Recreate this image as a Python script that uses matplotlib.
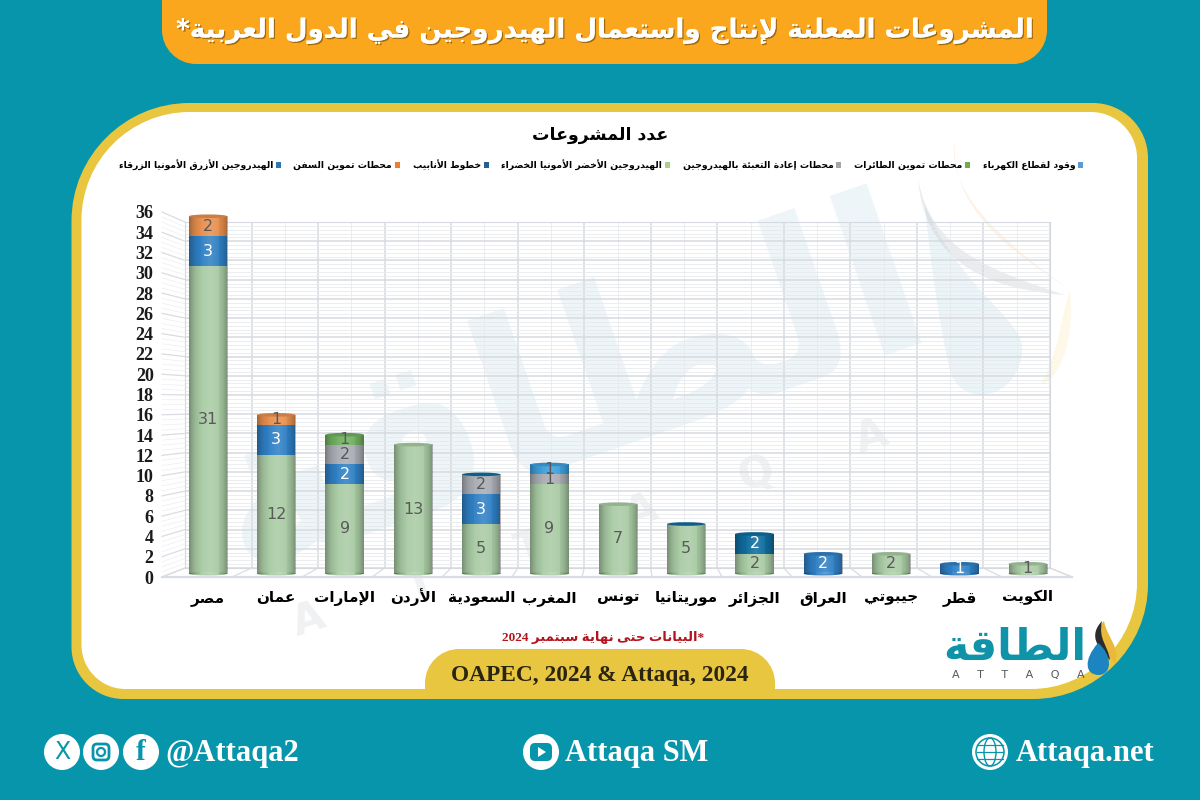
"""
Announced hydrogen projects in Arab countries, stacked cylinders on a poster layout
"""
import re
import numpy as np
import matplotlib
matplotlib.use("Agg")
import matplotlib.pyplot as plt
import matplotlib.patheffects as pe
from matplotlib.patches import Circle, Ellipse, FancyBboxPatch, PathPatch, Polygon, Rectangle
from matplotlib.path import Path
from matplotlib.ticker import MultipleLocator

countries = ["مصر", "عمان", "الإمارات", "الأردن", "السعودية", "المغرب", "تونس",
             "موريتانيا", "الجزائر", "العراق", "جيبوتي", "قطر", "الكويت"]

# stacking order is bottom to top
green_h2 = [31, 12, 9, 13, 5, 9, 7, 5, 2, 0, 2, 0, 1]
blue_h2 = [3, 3, 2, 0, 3, 0, 0, 0, 0, 2, 0, 1, 0]
pipelines = [0, 0, 0, 0, 0, 0, 0, 0, 2, 0, 0, 0, 0]
refuel = [0, 0, 2, 0, 2, 1, 0, 0, 0, 0, 0, 0, 0]
aviation = [0, 0, 1, 0, 0, 0, 0, 0, 0, 0, 0, 0, 0]
ships = [2, 1, 0, 0, 0, 0, 0, 0, 0, 0, 0, 0, 0]
power = [0, 0, 0, 0, 0, 1, 0, 0, 0, 0, 0, 0, 0]

name_green = "الهيدروجين الأخضر الأمونيا الخضراء"
name_blue = "الهيدروجين الأزرق الأمونيا الزرقاء"
name_pipe = "خطوط الأنابيب"
name_refuel = "محطات إعادة التعبئة بالهيدروجين"
name_air = "محطات تموين الطائرات"
name_ship = "محطات تموين السفن"
name_power = "وقود لقطاع الكهرباء"

title_text = "المشروعات المعلنة لإنتاج واستعمال الهيدروجين في الدول العربية*"
chart_title = "عدد المشروعات"
note_text = "*البيانات حتى نهاية سبتمبر 2024"
source_text = "OAPEC, 2024 & Attaqa, 2024"
logo_text = "الطاقة"

TEAL = "#0795AB"
ORANGE = "#FBA71E"
YELLOW = "#E9C63F"
SERIF = ["Liberation Serif", "DejaVu Sans"]

# matplotlib has no arabic shaping, so map to presentation forms and flip
LETTERS = "ءآأؤإئابةتثجحخدذرزسشصضطظعغفقكلمنهوىي"
COUNTS = [1, 2, 2, 2, 2, 4, 2, 4, 2, 4, 4, 4, 4, 4, 2, 2, 2, 2, 4, 4, 4, 4, 4, 4, 4, 4, 4, 4, 4, 4, 4, 4, 4, 2, 2, 4]
BASE = {}
code = 0xFE80
for ch, cnt in zip(LETTERS, COUNTS):
    BASE[ch] = (code, cnt)
    code += cnt
LAM_ALEF = {"آ": 0xFEF5, "أ": 0xFEF7, "إ": 0xFEF9, "ا": 0xFEFB}


def ar(s):
    out = []
    i = 0
    while i < len(s):
        ch = s[i]
        if ch not in BASE:
            out.append(ch)
            i += 1
            continue
        prev_joins = i > 0 and s[i - 1] in BASE and BASE[s[i - 1]][1] == 4
        if ch == "ل" and i + 1 < len(s) and s[i + 1] in LAM_ALEF:
            out.append(chr(LAM_ALEF[s[i + 1]] + (1 if prev_joins else 0)))
            i += 2
            continue
        next_joins = i + 1 < len(s) and s[i + 1] in BASE and s[i + 1] != "ء"
        base, cnt = BASE[ch]
        if cnt == 1:
            form = 0
        elif cnt == 2:
            form = 1 if prev_joins else 0
        elif prev_joins:
            form = 3 if next_joins else 1
        else:
            form = 2 if next_joins else 0
        out.append(chr(base + form))
        i += 1
    return re.sub(r"\d+", lambda m: m.group()[::-1], "".join(out)[::-1])


def round_box(x0, y0, x1, y1, tl, tr, br, bl):
    # y goes down, one radius per corner
    k = 0.45
    verts = [(x0 + tl, y0), (x1 - tr, y0),
             (x1 - tr * k, y0), (x1, y0 + tr * k), (x1, y0 + tr), (x1, y1 - br),
             (x1, y1 - br * k), (x1 - br * k, y1), (x1 - br, y1), (x0 + bl, y1),
             (x0 + bl * k, y1), (x0, y1 - bl * k), (x0, y1 - bl), (x0, y0 + tl),
             (x0, y0 + tl * k), (x0 + tl * k, y0), (x0 + tl, y0), (x0 + tl, y0)]
    codes = [Path.MOVETO, Path.LINETO,
             Path.CURVE4, Path.CURVE4, Path.CURVE4, Path.LINETO,
             Path.CURVE4, Path.CURVE4, Path.CURVE4, Path.LINETO,
             Path.CURVE4, Path.CURVE4, Path.CURVE4, Path.LINETO,
             Path.CURVE4, Path.CURVE4, Path.CURVE4, Path.CLOSEPOLY]
    return Path(verts, codes)


def blob(a, pts, color, alpha=1.0):
    # pts: start point then groups of three bezier points
    codes = [Path.MOVETO] + [Path.CURVE4] * (len(pts) - 1)
    a.add_patch(PathPatch(Path(pts, codes), fc=color, ec="none", alpha=alpha))


fig = plt.figure(figsize=(12, 8), dpi=100)
fig.patch.set_facecolor(TEAL)


def px_axes(x0, y0, x1, y1):
    # axes from pixel box, y measured from the top
    return fig.add_axes([x0 / 1200, 1 - y1 / 800, (x1 - x0) / 1200, (y1 - y0) / 800])


# poster background in pixel coordinates
bg = fig.add_axes([0, 0, 1, 1], zorder=0)
bg.set_xlim(0, 1200)
bg.set_ylim(800, 0)
bg.axis("off")

bg.add_patch(PathPatch(round_box(71.5, 103, 1148, 699, 118, 55, 115, 52), fc=YELLOW, ec="none"))
bg.add_patch(PathPatch(round_box(81.5, 112, 1137, 689, 108, 46, 106, 44), fc="#FFFFFF", ec="none"))
bg.add_patch(PathPatch(round_box(162, -40, 1047, 64, 10, 10, 34, 34), fc=ORANGE, ec="none"))
bg.add_patch(PathPatch(round_box(425, 649, 775, 695, 34, 34, 0, 0), fc=YELLOW, ec="none"))

# faint watermark behind the chart
bg.text(570, 395, ar(logo_text), fontsize=160, fontweight="bold", color="#EDF5F8", rotation=19,
        ha="center", va="center", family="DejaVu Sans")
bg.text(590, 528, "A      T      T      A      Q      A", fontsize=30, fontweight="bold", color="#F0F1F2",
        rotation=18, ha="center", va="center", family="DejaVu Sans")
blob(bg, [(918, 178), (930, 250), (990, 270), (1065, 295), (1000, 290), (925, 270), (918, 178)], "#8E989F", 0.18)
blob(bg, [(955, 140), (945, 190), (1000, 240), (1070, 290), (1010, 250), (950, 210), (955, 140)], "#F0A040", 0.13)
blob(bg, [(1070, 290), (1075, 340), (1060, 380), (1040, 385), (1060, 350), (1060, 320), (1070, 290)], "#F5D060", 0.14)
blob(bg, [(925, 205), (960, 290), (1025, 320), (1022, 350), (1020, 400), (960, 410), (950, 370),
          (940, 330), (930, 260), (925, 205)], "#7FB8CF", 0.15)

# title band and other poster text
bg.text(606, 31, ar(title_text), fontsize=18.8, fontweight="bold", color="#FFFFFF", ha="center", va="center",
        family="DejaVu Sans",
        path_effects=[pe.withSimplePatchShadow(offset=(1, -1), shadow_rgbFace="#7A5208", alpha=0.7), pe.Normal()])
bg.text(600, 135, ar(chart_title), fontsize=12.5, fontweight="bold", color="#000000", ha="center", va="center",
        family="DejaVu Sans")
bg.text(603, 638, ar(note_text), fontsize=9.5, fontweight="bold", color="#B3131D", ha="center", va="center",
        family=SERIF)
bg.text(600, 676, source_text, fontsize=16.8, fontweight="bold", color="#2A2412", ha="center", va="center",
        family="Liberation Serif")

# logo, bottom right
bg.text(1015, 648, ar(logo_text), fontsize=31, fontweight="bold", color="#0E93A8", ha="center", va="center",
        family="DejaVu Sans")
bg.text(1018, 675, "A     T     T     A     Q     A", fontsize=8, color="#55595C", ha="center", va="center",
        family="DejaVu Sans")
blob(bg, [(1104, 621), (1090, 636), (1104, 648), (1115, 664), (1120, 645), (1108, 640), (1104, 621)], "#E9B93C")
blob(bg, [(1102, 621), (1088, 636), (1098, 648), (1110, 660), (1108, 645), (1098, 640), (1102, 621)], "#2B2B2B")
blob(bg, [(1098, 643), (1083, 660), (1085, 675), (1099, 675), (1113, 674), (1112, 654), (1098, 643)], "#1C84C0")

# footer
for x, r in [(62, 18), (101, 18), (141, 18), (541, 18), (990, 18)]:
    bg.add_patch(Circle((x, 752), r, fc="#FFFFFF", ec="none"))
bg.text(62, 752, "X", fontsize=17, color=TEAL, ha="center", va="center", family="DejaVu Sans")
bg.add_patch(FancyBboxPatch((93, 744), 16, 16, boxstyle="round,pad=0,rounding_size=4", fc="none", ec=TEAL, lw=2))
bg.add_patch(Circle((101, 752), 4, fc="none", ec=TEAL, lw=1.6))
bg.text(141, 753, "f", fontsize=21, fontweight="bold", color=TEAL, ha="center", va="center",
        family="Liberation Serif")
bg.add_patch(FancyBboxPatch((530, 743), 22, 18, boxstyle="round,pad=0,rounding_size=5", fc=TEAL, ec="none"))
bg.add_patch(Polygon([(538, 747), (538, 757), (546, 752)], fc="#FFFFFF", ec="none"))
bg.add_patch(Circle((990, 752), 14, fc="none", ec=TEAL, lw=1.1))
bg.add_patch(Ellipse((990, 752), 12, 28, fc="none", ec=TEAL, lw=1))
for dy in [-7, 0, 7]:
    bg.plot([977, 1003], [752 + dy, 752 + dy], color=TEAL, lw=0.9)
for x, txt in [(165, "@Attaqa2"), (565, "Attaqa SM"), (1016, "Attaqa.net")]:
    bg.text(x, 754, txt, fontsize=22, fontweight="bold", color="#FFFFFF", ha="left", va="center",
            family="Liberation Serif")

# back wall with the fine grid
wall = px_axes(185, 222, 1050, 568)
wall.set_zorder(1)
wall.patch.set_visible(False)
wall.set_xlim(0, 13)
wall.set_ylim(0, 36)
wall.xaxis.set_major_locator(MultipleLocator(1))
wall.xaxis.set_minor_locator(MultipleLocator(0.5))
wall.yaxis.set_major_locator(MultipleLocator(2))
wall.yaxis.set_minor_locator(MultipleLocator(0.4))
wall.grid(which="major", color="#D6DAE0", lw=1.1)
wall.grid(which="minor", color="#E8EAED", lw=0.6)
wall.tick_params(which="both", length=0, labelbottom=False, labelleft=False)
for s in wall.spines.values():
    s.set_color("#D6DAE0")

# perspective lines between wall and front edge
for v in np.arange(0, 36.1, 0.5):
    major = v % 2 == 0
    bg.plot([162, 185], [577 - v * 365 / 36, 568 - v * 346 / 36], color="#D9DCE2" if major else "#EDEEF1",
            lw=0.9 if major else 0.5, zorder=3)
for k in range(14):
    bg.plot([162 + 70 * k, 185 + 66.54 * k], [577, 568], color="#D9DCE2", lw=0.9, zorder=3)
bg.plot([162, 1072], [577, 577], color="#D9DCE2", lw=1.6, zorder=3)
bg.plot([1050, 1072], [568, 577], color="#D9DCE2", lw=0.9, zorder=3)

# front scale, slightly larger than the wall
front = px_axes(162, 212, 163, 577)
front.set_zorder(1)
front.patch.set_visible(False)
front.set_ylim(0, 36)
front.set_xticks([])
front.set_yticks(range(0, 37, 2))
front.tick_params(length=0, pad=6)
for lab in front.get_yticklabels():
    lab.set_family("Liberation Serif")
    lab.set_fontweight("bold")
    lab.set_fontsize(13)
    lab.set_color("#1A1A1A")
for s in front.spines.values():
    s.set_visible(False)

# the bars
ax = px_axes(173.85, 196.4, 1061.85, 583.6)
ax.set_zorder(2)
ax.patch.set_visible(False)
for s in ax.spines.values():
    s.set_visible(False)

x = np.arange(len(countries))
bar_w = 0.56
series = [(green_h2, "#A9CBA4", name_green, "#A9D18E", "#595959"),
          (blue_h2, "#2F80C4", name_blue, "#2E75B6", "#FFFFFF"),
          (pipelines, "#0F6D9E", name_pipe, "#255E91", "#FFFFFF"),
          (refuel, "#A9ACB3", name_refuel, "#A5A5A5", "#595959"),
          (aviation, "#6FAF5F", name_air, "#70AD47", "#595959"),
          (ships, "#E88F4E", name_ship, "#ED7D31", "#595959"),
          (power, "#3E9FDC", name_power, "#5B9BD5", "#595959")]

bottom = np.zeros(len(countries))
top_color = ["#A9CBA4"] * len(countries)
first_color = [None] * len(countries)
handles = {}
for vals, col, name, leg_col, txt_col in series:
    vals = np.array(vals)
    bars = ax.bar(x, vals, bar_w, bottom=bottom, color=col, zorder=2)
    ax.bar_label(bars, labels=[str(v) if v else "" for v in vals], label_type="center", color=txt_col,
                 fontsize=11.5, zorder=8, family="DejaVu Sans")
    handles[name] = Rectangle((0, 0), 1, 1, fc=leg_col, ec="none", label=ar(name))
    for i, v in enumerate(vals):
        if v:
            top_color[i] = col
            if first_color[i] is None:
                first_color[i] = col
    bottom = bottom + vals
totals = bottom

# shading across the cylinder
t = np.linspace(-1, 1, 60)
shade = np.zeros((1, 60, 4))
dark = np.abs(t) ** 3 * 0.3
light = np.clip(0.14 * (1 - np.abs(t - 0.1) * 1.6), 0, 1)
shade[0, :, :3] = (light > dark)[:, None]
shade[0, :, 3] = np.maximum(dark, light)

# these two carry the thin dark lid of an empty series on top
dark_lid = {"السعودية", "موريتانيا"}
cap_h = 0.36
for i, total in enumerate(totals):
    ax.imshow(shade, extent=(x[i] - bar_w / 2, x[i] + bar_w / 2, 0, total), aspect="auto", zorder=3,
              interpolation="bilinear")
    low = Ellipse((x[i], 0), bar_w, cap_h, fc=first_color[i], ec="none", zorder=2)
    ax.add_patch(low)
    im = ax.imshow(shade, extent=(x[i] - bar_w / 2, x[i] + bar_w / 2, -cap_h, cap_h), aspect="auto", zorder=3,
                   interpolation="bilinear")
    im.set_clip_path(low)
    lid_col = "#0F6D9E" if countries[i] in dark_lid else top_color[i]
    ax.add_patch(Ellipse((x[i], total), bar_w, cap_h, fc=lid_col, ec="none", zorder=4))
    ax.add_patch(Ellipse((x[i], total), bar_w, cap_h, fc="#000000", ec="none", alpha=0.12, zorder=5))

ax.set_xlim(-0.5, 12.5)
ax.set_ylim(-1, 38)
ax.set_yticks([])
ax.set_xticks(x)
ax.set_xticklabels([ar(c) for c in countries], fontsize=11, fontweight="bold", family="DejaVu Sans", va="baseline")
ax.tick_params(axis="x", length=0, pad=13)

# legend reads right to left
order = [name_blue, name_ship, name_pipe, name_green, name_refuel, name_air, name_power]
leg = ax.legend(handles=[handles[n] for n in order], loc="center", bbox_to_anchor=(601 / 1200, 1 - 165 / 800),
                bbox_transform=fig.transFigure, ncol=7, frameon=False, markerfirst=False, handlelength=0.55,
                handleheight=0.55, handletextpad=0.3, columnspacing=1.35, borderpad=0,
                prop={"family": "DejaVu Sans", "weight": "bold", "size": 6.7})

fig.savefig("out.png", dpi=100, facecolor=fig.get_facecolor())
